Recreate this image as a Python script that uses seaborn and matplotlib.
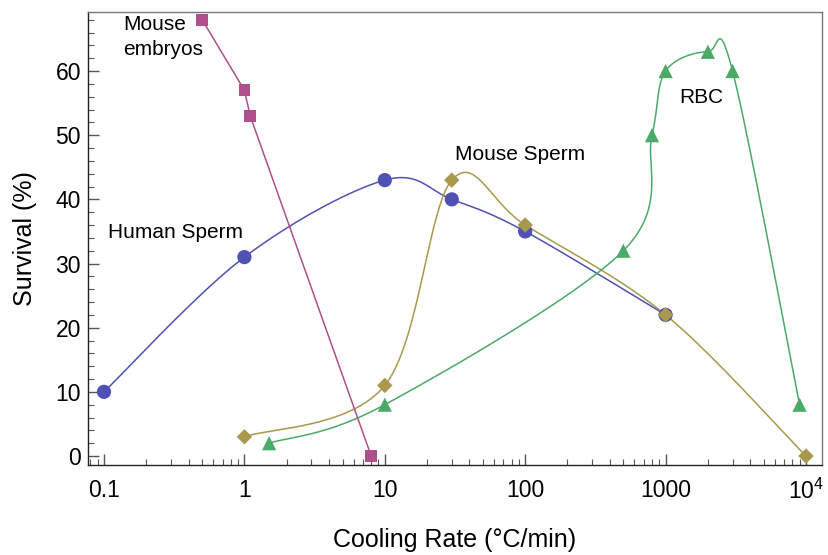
import numpy as np
import pandas as pd
import matplotlib
matplotlib.use("Agg")
import matplotlib.pyplot as plt
import seaborn as sns
from matplotlib.ticker import FixedLocator, FixedFormatter, NullFormatter

# ---- data ----
human_x = [0.1, 1, 10, 30, 100, 1000]
human_y = [10, 31, 43, 40, 35, 22]

msperm_x = [1, 10, 30, 100, 1000, 10000]
msperm_y = [3, 11, 43, 36, 22, 0]

rbc_x = [1.5, 10, 500, 800, 1000, 2000, 3000, 9000]
rbc_y = [2, 8, 32, 50, 60, 63, 60, 8]

embryo_x = [0.5, 1, 1.1, 8]
embryo_y = [68, 57, 53, 0]

xticks = [0.1, 1, 10, 100, 1000, 10000]
xticklabels = ["0.1", "1", "10", "100", "1000", r"$10^4$"]
yticks = [0, 10, 20, 30, 40, 50, 60]

c_blue = "#4F52B3"
c_olive = "#A8994C"
c_green = "#4BAA68"
c_mag = "#B0508A"


def smooth_path(x, y, n=60):
    """Parametric (uniform) Catmull-Rom rendering through the points,
    in log10-x / linear-y space."""
    P = np.column_stack([np.log10(np.asarray(x, float)), np.asarray(y, float)])
    m = len(P)
    T = np.zeros_like(P)
    for i in range(m):
        if i == 0:
            T[i] = (P[1] - P[0]) / 2
        elif i == m - 1:
            T[i] = (P[-1] - P[-2]) / 2
        else:
            T[i] = (P[i + 1] - P[i - 1]) / 2
    out = []
    t = np.linspace(0, 1, n)[:, None]
    for i in range(m - 1):
        p0, p3 = P[i], P[i + 1]
        p1 = p0 + T[i] / 3
        p2 = p3 - T[i + 1] / 3
        seg = ((1 - t) ** 3 * p0 + 3 * (1 - t) ** 2 * t * p1
               + 3 * (1 - t) * t ** 2 * p2 + t ** 3 * p3)
        out.append(seg if i == 0 else seg[1:])
    pts = np.vstack(out)
    return 10 ** pts[:, 0], pts[:, 1]


sns.set_style("white")
plt.rcParams["font.family"] = ["Liberation Sans", "DejaVu Sans"]
plt.rcParams["mathtext.fontset"] = "custom"
plt.rcParams["mathtext.rm"] = "Liberation Sans"
plt.rcParams["mathtext.it"] = "Liberation Sans"
plt.rcParams["text.color"] = "black"
plt.rcParams["axes.labelcolor"] = "black"
plt.rcParams["xtick.color"] = "black"
plt.rcParams["ytick.color"] = "black"

fig = plt.figure(figsize=(8.29, 5.55), dpi=100)
ax = fig.add_axes([88 / 829, 90 / 555, 734 / 829, 453 / 555])

series = [
    (human_x, human_y, c_blue, "o", 105, True),
    (msperm_x, msperm_y, c_olive, "D", 62, True),
    (rbc_x, rbc_y, c_green, "^", 105, True),
    (embryo_x, embryo_y, c_mag, "s", 70, False),
]

for xs_, ys_, col, mk, sz, smooth in series:
    if smooth:
        cx, cy = smooth_path(xs_, ys_)
    else:
        cx, cy = np.asarray(xs_, float), np.asarray(ys_, float)
    dfc = pd.DataFrame({"x": cx, "y": cy})
    sns.lineplot(data=dfc, x="x", y="y", sort=False, color=col, lw=1.1,
                 ax=ax, estimator=None)

for xs_, ys_, col, mk, sz, smooth in series:
    dfp = pd.DataFrame({"x": xs_, "y": ys_})
    sns.scatterplot(data=dfp, x="x", y="y", color=col, marker=mk, s=sz,
                    edgecolor="none", ax=ax, zorder=3)

ax.set_xscale("log")
ax.set_xlim(10 ** -1.114, 10 ** 4.114)
ax.set_ylim(-1.4, 69.2)

ax.xaxis.set_major_locator(FixedLocator(xticks))
ax.xaxis.set_major_formatter(FixedFormatter(xticklabels))
minors = [m * 10.0 ** e for e in range(-2, 5) for m in range(2, 10)]
ax.xaxis.set_minor_locator(FixedLocator(minors))
ax.xaxis.set_minor_formatter(NullFormatter())
ax.set_yticks(yticks)
ax.set_yticks(np.arange(0, 70, 2), minor=True)

ax.tick_params(axis="both", which="both", bottom=True, left=True,
               top=False, right=False)
ax.tick_params(axis="both", which="major", direction="in", length=8,
               width=1.0, color="#555555", labelsize=16.5, labelcolor="black")
ax.tick_params(axis="both", which="minor", direction="in", length=4,
               width=0.8, color="#555555")
ax.tick_params(axis="x", which="major", pad=10)
ax.tick_params(axis="y", which="major", pad=5)

for s in ["left", "bottom"]:
    ax.spines[s].set_color("#222222")
    ax.spines[s].set_linewidth(1.0)
for s in ["top", "right"]:
    ax.spines[s].set_color("#777777")
    ax.spines[s].set_linewidth(1.0)

ax.set_xlabel("Cooling Rate (°C/min)", fontsize=18, labelpad=17)
ax.set_ylabel("Survival (%)", fontsize=18, labelpad=13)

ax.text(0.107, 34.9, "Human Sperm", fontsize=15, va="center", ha="left")
ax.text(31.5, 47, "Mouse Sperm", fontsize=15, va="center", ha="left")
ax.text(1258, 55.9, "RBC", fontsize=15, va="center", ha="left")
ax.text(0.136, 68.7, "Mouse\nembryos", fontsize=15, va="top", ha="left",
        linespacing=1.4)

fig.savefig("out.png", dpi=100)
